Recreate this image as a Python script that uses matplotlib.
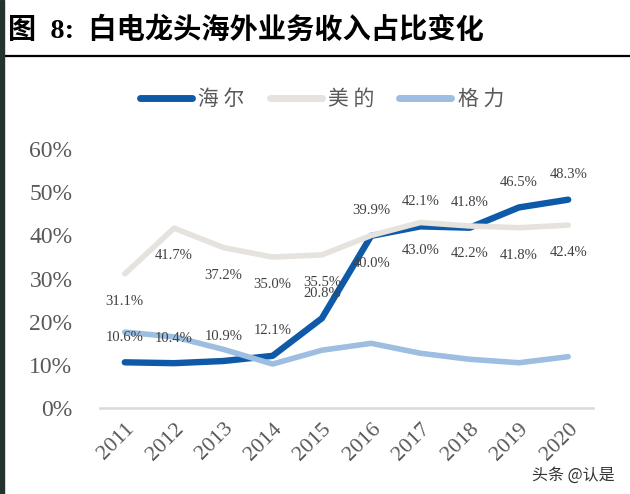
import matplotlib
matplotlib.use('Agg')
import matplotlib.pyplot as plt
from matplotlib.lines import Line2D
from matplotlib.patches import Rectangle

years = ['2011', '2012', '2013', '2014', '2015', '2016', '2017', '2018', '2019', '2020']
haier = [10.6, 10.4, 10.9, 12.1, 20.8, 39.9, 42.1, 41.8, 46.5, 48.3]
midea = [31.1, 41.7, 37.2, 35.0, 35.5, 40.0, 43.0, 42.2, 41.8, 42.4]
gree = [17.6, 16.5, 13.6, 10.2, 13.4, 15.0, 12.7, 11.3, 10.5, 11.9]
series_names = ['海 尔', '美 的', '格 力']
yticks = [0, 10, 20, 30, 40, 50, 60]
title = '图  8:  白电龙头海外业务收入占比变化'

c_haier = '#0F5AA8'
c_midea = '#E6E3DE'
c_gree = '#9DBDE1'
txt = '#404040'

fig = plt.figure(figsize=(6.3, 4.94), dpi=100)
fig.patch.set_facecolor('white')
ax = fig.add_axes([0.159, 0.174, 0.782, 0.524])

x = list(range(len(years)))
ax.plot(x, haier, color=c_haier, lw=4.6, solid_capstyle='round', solid_joinstyle='round', zorder=3)
ax.plot(x, midea, color=c_midea, lw=4.0, solid_capstyle='round', solid_joinstyle='round', zorder=4)
ax.plot(x, gree, color=c_gree, lw=4.0, solid_capstyle='round', solid_joinstyle='round', zorder=5)

for i, v in enumerate(haier):
    ax.annotate(f'{v:.1f}%', (i, v), xytext=(0, 18), textcoords='offset points',
                ha='center', va='center', fontsize=10.5, family='Liberation Serif', color=txt, zorder=6)
for i, v in enumerate(midea):
    ax.annotate(f'{v:.1f}%', (i, v), xytext=(0, -20), textcoords='offset points',
                ha='center', va='center', fontsize=10.5, family='Liberation Serif', color=txt, zorder=6)

ax.set_xlim(-0.5, len(years) - 0.5)
ax.set_ylim(0, 60)
ax.set_yticks(yticks)
ax.set_yticklabels([f'{t}%' for t in yticks], family='Liberation Serif', fontsize=17, color='#595959')
ax.set_xticks(x)
ax.set_xticklabels(years, family='Liberation Serif', fontsize=16, color='#595959',
                   rotation=45, ha='right', va='top', rotation_mode='anchor')
ax.tick_params(axis='both', length=0)
ax.tick_params(axis='y', pad=20)
ax.tick_params(axis='x', pad=8)
for s in ['top', 'right', 'left']:
    ax.spines[s].set_visible(False)
ax.spines['bottom'].set_color('#D9D9D9')
ax.spines['bottom'].set_linewidth(1.8)

handles = [Line2D([], [], color=c, lw=5, solid_capstyle='round') for c in (c_haier, c_midea, c_gree)]
leg = fig.legend(handles, series_names, loc='center', bbox_to_anchor=(0.511, 0.80), ncol=3,
                 frameon=False, handlelength=2.5, handletextpad=0.3, columnspacing=1.2,
                 prop={'family': ['Noto Sans CJK SC', 'DejaVu Sans'], 'size': 15})
for t in leg.get_texts():
    t.set_color('#595959')

fig.text(0.013, 0.940, title, family=['Liberation Serif', 'Noto Sans CJK SC'], fontweight='bold',
         fontsize=20.3, color='black', ha='left', va='center')
fig.add_artist(Line2D([0.008, 1.0], [0.886, 0.886], color='black', lw=1.6, transform=fig.transFigure))
fig.add_artist(Rectangle((0, 0), 0.0065, 1, color='#24332e', transform=fig.transFigure, zorder=10))

fig.text(0.975, 0.038, '头条 @认是', family=['Noto Sans CJK SC', 'DejaVu Sans'], fontsize=11.5,
         color='#333333', ha='right', va='center')

fig.savefig('out.png', dpi=100)
